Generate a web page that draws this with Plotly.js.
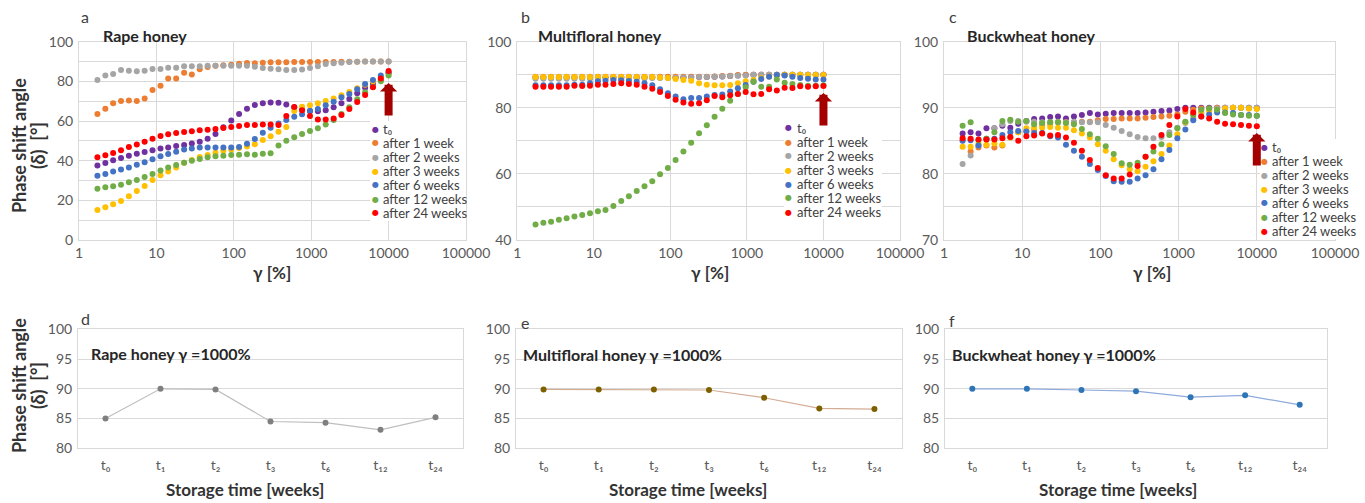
<!DOCTYPE html>
<html>
<head>
<meta charset="utf-8">
<script src="https://cdn.plot.ly/plotly-3.0.1.min.js"></script>
<style>html,body{margin:0;padding:0;background:#fff;}#chart{width:1365px;height:503px;}</style>
</head>
<body>
<div id="chart"></div>
<script>
// ---------- DATA ----------
const gamma = [1.73, 2.19, 2.76, 3.49, 4.41, 5.58, 7.05, 8.91, 11.3, 14.2, 18.0, 22.8, 28.7, 36.3, 45.9, 58.0, 73.3, 92.7, 117, 148, 187, 237, 299, 378, 477, 604, 762, 964, 1220, 1540, 1950, 2460, 3110, 3930, 4970, 6280, 7930, 10000];

const seriesNames = ['t₀', 'after 1 week', 'after 2 weeks', 'after 3 weeks', 'after 6 weeks', 'after 12 weeks', 'after 24 weeks'];

// Rape honey (a)
const rapeT0  = [37.6, 38.8, 40.2, 41.4, 42.5, 43.5, 44.4, 45.2, 46.1, 46.7, 47.4, 47.9, 48.7, 49.6, 51.1, 53.5, 56.8, 60.2, 63.5, 66.2, 68.1, 68.9, 69.3, 69.2, 68.3, 67.0, 65.8, 65.0, 64.9, 65.4, 66.9, 68.9, 71.1, 74.0, 76.8, 78.8, 80.7, 84.3];
const rapeW1  = [63.5, 66.2, 68.9, 70.1, 70.3, 70.1, 71.4, 75.6, 77.8, 81.5, 81.5, 84.4, 83.5, 86.1, 87.2, 87.9, 88.1, 88.4, 88.9, 89.3, 89.1, 89.4, 89.6, 89.6, 89.6, 89.7, 89.7, 89.8, 89.8, 89.8, 89.8, 89.9, 89.9, 89.9, 90.0, 90.0, 90.0, 90.0];
const rapeW2  = [80.7, 83.0, 83.7, 85.7, 85.4, 85.1, 85.4, 86.2, 86.2, 86.9, 86.9, 87.6, 87.6, 87.6, 87.9, 87.9, 87.9, 87.9, 87.9, 87.9, 87.4, 86.7, 86.4, 86.1, 85.7, 85.7, 86.0, 86.7, 87.6, 88.7, 89.1, 89.4, 89.8, 89.9, 90.0, 90.0, 90.0, 90.0];
const rapeW3  = [15.1, 16.5, 18.0, 19.7, 22.0, 24.7, 27.2, 30.3, 32.6, 34.6, 36.6, 39.0, 40.3, 41.9, 42.9, 44.0, 45.0, 45.7, 46.4, 47.2, 48.3, 50.4, 52.3, 54.6, 57.0, 65.1, 67.2, 67.9, 68.9, 70.1, 71.4, 73.0, 74.6, 76.5, 78.3, 80.0, 81.8, 83.7];
const rapeW6  = [32.4, 33.3, 34.5, 35.5, 36.6, 38.0, 39.2, 40.7, 42.2, 43.4, 44.5, 45.7, 46.2, 46.7, 46.7, 46.7, 46.6, 46.7, 46.9, 48.6, 50.9, 54.1, 56.6, 58.8, 60.5, 62.2, 63.4, 65.0, 66.0, 67.9, 69.7, 72.0, 73.6, 76.0, 78.7, 80.7, 83.0, 84.4];
const rapeW12 = [25.9, 26.6, 27.1, 27.9, 29.1, 30.3, 31.8, 33.3, 35.1, 36.5, 37.8, 39.0, 40.0, 40.8, 41.7, 42.2, 42.5, 42.9, 43.0, 43.2, 43.0, 43.5, 43.7, 47.6, 50.1, 51.8, 53.5, 55.0, 56.3, 58.3, 60.5, 63.5, 67.0, 71.0, 74.5, 77.2, 80.0, 83.0];
const rapeW24 = [41.7, 42.7, 43.9, 45.2, 46.9, 48.1, 49.6, 51.1, 52.4, 53.3, 54.0, 54.5, 54.8, 55.3, 55.6, 56.0, 56.5, 57.0, 57.5, 58.0, 58.0, 58.2, 58.2, 58.0, 62.5, 67.1, 65.4, 62.5, 60.8, 60.8, 61.3, 63.0, 66.1, 69.6, 73.1, 77.0, 81.5, 85.2];

// Multifloral honey (b)
const multiT0  = [89.2, 89.2, 89.2, 89.2, 89.2, 89.2, 89.2, 89.2, 89.2, 89.2, 89.2, 89.2, 89.2, 89.2, 89.2, 89.2, 89.2, 89.2, 89.2, 89.2, 89.3, 89.3, 89.3, 89.4, 89.5, 89.6, 89.8, 89.9, 90.0, 90.0, 90.0, 90.0, 90.0, 90.0, 90.0, 90.0, 90.0, 90.0];
const multiW1  = [89.4, 89.4, 89.4, 89.4, 89.4, 89.4, 89.4, 89.4, 89.4, 89.4, 89.4, 89.4, 89.4, 89.4, 89.4, 89.4, 89.4, 89.4, 89.4, 89.4, 89.4, 89.4, 89.4, 89.5, 89.6, 89.7, 89.9, 90.0, 90.0, 90.0, 90.0, 90.0, 90.0, 90.0, 90.0, 90.0, 90.0, 90.0];
const multiW2  = [88.8, 88.8, 88.8, 88.8, 88.8, 88.8, 88.8, 88.8, 88.8, 88.8, 88.8, 88.8, 88.9, 88.9, 88.9, 89.0, 89.0, 89.0, 89.1, 89.2, 89.2, 89.3, 89.3, 89.4, 89.5, 89.6, 89.7, 89.8, 90.0, 90.0, 90.0, 90.0, 90.0, 90.0, 90.0, 90.0, 90.0, 90.0];
const multiW3  = [89.3, 89.3, 89.3, 89.3, 89.3, 89.3, 89.3, 89.3, 89.3, 89.3, 89.3, 89.3, 89.3, 89.3, 89.3, 89.3, 89.2, 89.0, 88.7, 88.4, 88.2, 87.4, 87.0, 86.8, 86.8, 86.9, 87.4, 88.0, 88.4, 89.0, 89.5, 89.8, 90.0, 90.0, 90.0, 89.9, 89.9, 89.9];
const multiW6  = [86.8, 86.8, 86.8, 86.8, 86.8, 87.0, 87.0, 87.4, 88.0, 88.2, 88.4, 88.3, 88.1, 87.9, 87.4, 86.8, 85.6, 84.4, 83.4, 82.6, 83.0, 83.0, 83.4, 83.9, 84.0, 84.9, 85.9, 86.9, 87.9, 88.7, 89.4, 89.9, 89.8, 89.4, 89.0, 88.8, 88.6, 88.6];
const multiW12 = [44.7, 45.2, 45.5, 46.1, 46.6, 47.1, 47.6, 48.1, 48.7, 49.1, 50.3, 51.8, 53.2, 54.8, 56.3, 57.8, 59.9, 61.8, 64.2, 66.8, 69.4, 72.3, 74.7, 77.3, 79.7, 82.1, 84.2, 86.2, 87.9, 86.4, 86.4, 88.6, 87.6, 87.2, 86.9, 86.7, 86.7, 86.8];
const multiW24 = [86.4, 86.4, 86.4, 86.4, 86.4, 86.7, 86.6, 86.7, 87.0, 87.0, 87.2, 87.4, 87.2, 87.0, 86.4, 85.8, 84.8, 83.6, 82.4, 81.6, 81.2, 81.4, 82.3, 83.6, 83.2, 83.8, 84.2, 84.8, 84.1, 84.2, 85.6, 85.2, 86.1, 86.0, 86.5, 86.4, 86.5, 86.6];

// Buckwheat honey (c)
const buckT0  = [86.1, 86.3, 86.1, 86.9, 86.9, 87.3, 87.0, 87.6, 88.0, 88.3, 88.4, 88.6, 88.7, 88.4, 88.7, 88.9, 89.2, 89.0, 89.1, 89.2, 89.2, 89.2, 89.2, 89.3, 89.4, 89.5, 89.6, 89.8, 90.0, 90.0, 90.0, 90.0, 90.0, 90.0, 90.0, 90.0, 90.0, 90.0];
const buckW1  = [85.1, 83.4, 84.0, 84.3, 84.0, 84.3, 85.5, 86.3, 86.5, 86.7, 87.4, 87.6, 87.8, 87.8, 87.8, 87.9, 87.9, 88.1, 88.3, 88.3, 88.4, 88.4, 88.4, 88.5, 88.6, 88.7, 88.8, 89.0, 89.4, 89.7, 89.9, 89.9, 90.0, 90.0, 90.0, 90.0, 89.9, 89.9];
const buckW2  = [81.5, 82.8, 84.3, 85.2, 86.9, 87.5, 88.0, 88.0, 87.9, 87.9, 87.8, 87.8, 87.9, 87.8, 87.9, 87.8, 87.8, 87.8, 87.4, 87.0, 86.5, 86.0, 85.6, 85.4, 85.4, 85.6, 86.3, 87.0, 87.7, 88.4, 89.2, 89.7, 89.9, 90.0, 90.0, 90.0, 90.0, 90.0];
const buckW3  = [84.1, 84.1, 84.6, 84.4, 84.6, 84.4, 85.5, 86.3, 86.9, 87.0, 87.0, 87.1, 87.0, 87.0, 86.6, 86.1, 85.5, 84.5, 83.5, 82.2, 81.3, 80.7, 80.4, 81.1, 81.9, 83.0, 84.3, 86.0, 87.8, 89.0, 89.4, 89.5, 89.7, 89.9, 90.0, 90.0, 89.9, 89.8];
const buckW6  = [85.0, 85.1, 84.3, 85.3, 85.3, 85.9, 86.3, 86.5, 86.4, 86.2, 86.2, 85.7, 85.5, 84.4, 83.5, 82.6, 81.5, 80.6, 79.7, 78.9, 78.8, 78.8, 79.3, 79.8, 80.7, 82.2, 83.6, 85.4, 86.7, 88.1, 88.7, 89.0, 89.3, 89.3, 89.2, 88.9, 88.9, 88.8];
const buckW12 = [87.3, 87.8, 85.1, 85.3, 86.3, 88.0, 88.2, 87.9, 88.0, 87.5, 87.7, 87.8, 87.8, 87.7, 87.5, 86.8, 86.0, 85.3, 84.2, 83.0, 81.6, 81.4, 81.7, 82.6, 83.4, 84.5, 85.9, 86.9, 87.9, 88.9, 89.7, 89.9, 89.7, 89.2, 89.0, 88.9, 88.8, 88.8];
const buckW24 = [85.4, 85.3, 85.2, 85.2, 85.2, 85.4, 85.6, 85.0, 85.7, 85.8, 86.1, 85.8, 85.9, 85.5, 84.7, 83.5, 82.1, 80.9, 79.8, 79.3, 79.3, 79.9, 81.2, 82.6, 84.1, 85.9, 87.4, 88.7, 89.8, 89.3, 88.7, 88.4, 87.9, 87.6, 87.5, 87.4, 87.3, 87.2];

// Storage time panels (d, e, f)
const storageCats   = ['t0', 't1', 't2', 't3', 't6', 't12', 't24'];
const storageLabels = ['t₀', 't₁', 't₂', 't₃', 't₆', 't₁₂', 't₂₄'];
const rape1000  = [85.0, 90.0, 89.9, 84.5, 84.3, 83.1, 85.2];
const multi1000 = [89.9, 89.9, 89.9, 89.8, 88.5, 86.7, 86.6];
const buck1000  = [90.0, 90.0, 89.8, 89.6, 88.6, 88.9, 87.3];

const xTickVals = [1, 10, 100, 1000, 10000, 100000];
const xTickText = ['1', '10', '100', '1000', '10000', '100000'];

// ---------- STYLE ----------
const seriesColors = ['#7030A0', '#ED7D31', '#A5A5A5', '#FFC000', '#4472C4', '#70AD47', '#FF0000'];
const FONT = 'Lato, "Open Sans", "DejaVu Sans", sans-serif';
const GRID = '#d9d9d9';
const TICKC = '#595959';
const TITLEC = '#333333';
const W = 1365, H = 503;
const px = v => v / W;
const py = v => 1 - v / H;

const panels = [
  {series: [rapeT0, rapeW1, rapeW2, rapeW3, rapeW6, rapeW12, rapeW24], ax: '', x0: 79, x1: 466},
  {series: [multiT0, multiW1, multiW2, multiW3, multiW6, multiW12, multiW24], ax: '2', x0: 517.3, x1: 900},
  {series: [buckT0, buckW1, buckW2, buckW3, buckW6, buckW12, buckW24], ax: '3', x0: 944, x1: 1335}
];
const bottom = [
  {y: rape1000,  ax: '4', x0: 78,  x1: 463, mc: '#7f7f7f', lc: '#bfbfbf'},
  {y: multi1000, ax: '5', x0: 516, x1: 902, mc: '#7f6000', lc: '#d4ac94'},
  {y: buck1000,  ax: '6', x0: 945, x1: 1327, mc: '#2e75b6', lc: '#8faadc'}
];

const traces = [];
panels.forEach(p => {
  p.series.forEach((s, i) => {
    traces.push({
      type: 'scatter', mode: 'markers', x: gamma, y: s,
      xaxis: 'x' + p.ax, yaxis: 'y' + p.ax,
      name: seriesNames[i], showlegend: false,
      marker: {size: 6, color: seriesColors[i]}, hoverinfo: 'x+y+name'
    });
  });
});
bottom.forEach(b => {
  traces.push({
    type: 'scatter', mode: 'lines+markers', x: storageCats, y: b.y,
    xaxis: 'x' + b.ax, yaxis: 'y' + b.ax, showlegend: false,
    line: {color: b.lc, width: 1.2}, marker: {size: 6, color: b.mc}
  });
});

const tickfont = {family: FONT, size: 14, color: TICKC};
const layout = {
  width: W, height: H,
  margin: {l: 0, r: 0, t: 0, b: 0},
  paper_bgcolor: '#fff', plot_bgcolor: '#fff',
  font: {family: FONT, color: TITLEC},
  showlegend: false,
  annotations: [], shapes: []
};

const topY = [py(240), py(41.7)];
const yTop = [
  {range: [0, 100], dtick: 20, minor: 10},
  {range: [40, 100], dtick: 20, minor: 10},
  {range: [70, 100], dtick: 10, minor: 5}
];
panels.forEach((p, i) => {
  layout['xaxis' + p.ax] = {
    type: 'log', range: [0, 5], domain: [px(p.x0), px(p.x1)], anchor: 'y' + p.ax,
    tickvals: xTickVals, ticktext: xTickText, tickfont: tickfont,
    showgrid: true, gridcolor: GRID, gridwidth: 1, showline: true, mirror: true, linecolor: GRID,
    zeroline: false, ticks: '', fixedrange: true
  };
  layout['yaxis' + p.ax] = {
    range: yTop[i].range, dtick: yTop[i].dtick, domain: topY, anchor: 'x' + p.ax,
    tickfont: tickfont, showgrid: true, gridcolor: GRID, showline: true, mirror: true, linecolor: GRID,
    minor: {dtick: yTop[i].minor, showgrid: true, gridcolor: GRID, ticks: ''},
    zeroline: false, ticks: '', ticklabelstandoff: 2, fixedrange: true
  };
});
const botY = [py(448.3), py(329.3)];
bottom.forEach(b => {
  layout['xaxis' + b.ax] = {
    type: 'category', range: [-0.5, 6.5], domain: [px(b.x0), px(b.x1)], anchor: 'y' + b.ax,
    tickvals: storageCats, ticktext: storageLabels, tickfont: {family: FONT, size: 14, color: TICKC},
    showgrid: false, showline: true, mirror: true, linecolor: GRID, zeroline: false, ticks: '',
    ticklabelstandoff: 4, fixedrange: true
  };
  layout['yaxis' + b.ax] = {
    range: [80, 100], dtick: 5, domain: botY, anchor: 'x' + b.ax,
    tickfont: tickfont, showgrid: true, gridcolor: GRID, showline: true, mirror: true, linecolor: GRID,
    zeroline: false, ticks: '', ticklabelstandoff: 2, fixedrange: true
  };
});

const ann = layout.annotations;
function txt(text, x, y, opts) {
  ann.push(Object.assign({
    text: text, xref: 'paper', yref: 'paper', x: px(x), y: py(y),
    xanchor: 'left', yanchor: 'middle', showarrow: false,
    font: {family: FONT, size: 16, color: TITLEC}
  }, opts || {}));
}
// panel letters
[['a', 79, 17], ['b', 519, 17], ['c', 947, 17], ['d', 79, 318], ['e', 519, 322], ['f', 947, 320]].forEach(l =>
  txt(l[0], l[1], l[2], {font: {family: FONT, size: 16, color: '#404040'}}));
// panel titles
const bold16 = {family: FONT, size: 16, color: '#262626', weight: 'bold'};
txt('Rape honey', 101, 35, {font: bold16});
txt('Multifloral honey', 536, 35, {font: bold16});
txt('Buckwheat honey', 965, 35, {font: bold16});
txt('Rape honey γ =1000%', 89, 353, {font: bold16});
txt('Multifloral honey γ =1000%', 521, 354, {font: bold16});
txt('Buckwheat honey γ =1000%', 950, 354, {font: bold16});
// axis titles
const bold17 = {family: FONT, size: 17, color: '#333333', weight: 'bold'};
const bold18 = {family: FONT, size: 18, color: '#333333', weight: 'bold'};
[272, 710, 1152].forEach(cx => txt('γ [%]', cx, 272, {xanchor: 'center', font: bold17}));
[245, 688, 1118].forEach(cx => txt('Storage time [weeks]', cx, 489, {xanchor: 'center', font: bold17}));
[146, 386].forEach(cy => {
  txt('Phase shift angle', 19, cy, {xanchor: 'center', textangle: -90, font: bold18});
  txt('(δ)  [°]', 38, cy, {xanchor: 'center', textangle: -90, font: bold18});
});

// legends (white boxes + entries)
const legends = [
  {mx: 375, y0: 129, box: [370, 121, 466, 221]},
  {mx: 789, y0: 128, box: [784, 120, 882, 219]},
  {mx: 1264, y0: 147, box: [1260, 139, 1362, 239]}
];
legends.forEach(lg => {
  layout.shapes.push({type: 'rect', xref: 'paper', yref: 'paper', layer: 'above',
    x0: px(lg.box[0]), x1: px(lg.box[2]), y0: py(lg.box[3]), y1: py(lg.box[1]),
    fillcolor: '#ffffff', line: {width: 0}});
  seriesNames.forEach((n, i) => {
    const yy = lg.y0 + i * 14;
    txt('●', lg.mx, yy, {xanchor: 'center', font: {family: 'DejaVu Sans', size: 8, color: seriesColors[i]}});
    txt(n, lg.mx + 6, yy, {font: {family: FONT, size: 13, color: '#404040'}});
  });
});

// red arrows
const arrowTips = [{ax: '', y: 79.2}, {ax: '2', y: 84.5}, {ax: '3', y: 86.2}];
arrowTips.forEach(a => {
  ann.push({xref: 'x' + a.ax, yref: 'y' + a.ax, x: 4, y: a.y, text: '', showarrow: true,
    arrowhead: 1, arrowsize: 0.36, arrowwidth: 8, arrowcolor: '#a50000',
    ax: 0, ay: 34, standoff: 0});
});

Plotly.newPlot('chart', traces, layout, {staticPlot: true, displayModeBar: false});
</script>
</body>
</html>
